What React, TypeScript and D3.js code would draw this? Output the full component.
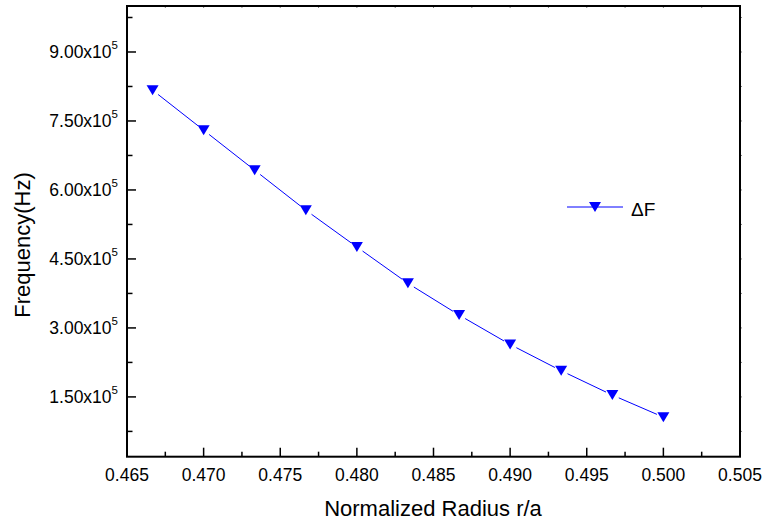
import React from "react";
import * as d3 from "d3";

const radius = [0.46667, 0.47, 0.47333, 0.47667, 0.48, 0.48333, 0.48667, 0.49, 0.49333, 0.49667, 0.5];
const deltaF = [8.17e5, 7.30e5, 6.43e5, 5.56e5, 4.76e5, 3.97e5, 3.28e5, 2.64e5, 2.07e5, 1.54e5, 1.06e5];
const xTicks = [0.465, 0.47, 0.475, 0.48, 0.485, 0.49, 0.495, 0.5, 0.505];
const yTicks = [1.5e5, 3.0e5, 4.5e5, 6.0e5, 7.5e5, 9.0e5];
const yTickLabels = ["1.50", "3.00", "4.50", "6.00", "7.50", "9.00"];
const seriesName = "ΔF";

const W = 766, H = 524;
const L = 127, R = 740, T = 6, B = 456.7;
const FONT = "'Liberation Sans', Arial, sans-serif";
const BLUE = "#0000ff";

export default function App() {
  const x = d3.scaleLinear().domain([0.465, 0.505]).range([L, R]);
  const y = d3.scaleLinear().domain([20000, 1000000]).range([B, T]);

  const xMinor = d3.range(0, 8).map((i) => 0.4675 + i * 0.005);
  const yMinor = d3.range(0, 7).map((i) => 0.75e5 + i * 1.5e5);

  const pts = radius.map((r, i) => [x(r), y(deltaF[i])] as [number, number]);
  const gap = 7;
  const segs = pts.slice(1).map((p, i) => {
    const a = pts[i];
    const dx = p[0] - a[0], dy = p[1] - a[1];
    const len = Math.hypot(dx, dy);
    const ux = dx / len, uy = dy / len;
    return [a[0] + ux * gap, a[1] + uy * gap, p[0] - ux * gap, p[1] - uy * gap];
  });
  const tri = (cx: number, cy: number) =>
    `M${cx - 6},${cy - 5}L${cx + 6},${cy - 5}L${cx},${cy + 5}Z`;

  return (
    <svg width={W} height={H} style={{ position: "absolute", left: 0, top: 0, background: "#fff" }} fontFamily={FONT}>
      <rect x={0} y={0} width={W} height={H} fill="#fff" />
      {/* minor ticks */}
      {xMinor.map((v) => (
        <g key={"xm" + v}>
          <line x1={x(v)} x2={x(v)} y1={B} y2={B - 5} stroke="#000" strokeWidth={1.5} />
          <line x1={x(v)} x2={x(v)} y1={T} y2={T + 1.5} stroke="#000" strokeWidth={1} />
        </g>
      ))}
      {xTicks.map((v) => (
        <g key={"xM" + v}>
          <line x1={x(v)} x2={x(v)} y1={B} y2={B - 9} stroke="#000" strokeWidth={1.5} />
          <line x1={x(v)} x2={x(v)} y1={T} y2={T + 1.5} stroke="#000" strokeWidth={1} />
          <text x={x(v)} y={481} fontSize={17.5} textAnchor="middle" fill="#000">
            {v.toFixed(3)}
          </text>
        </g>
      ))}
      {yMinor.map((v) => (
        <g key={"ym" + v}>
          <line x1={L} x2={L + 5.5} y1={y(v)} y2={y(v)} stroke="#000" strokeWidth={1.5} />
          <line x1={R} x2={R + 1.5} y1={y(v)} y2={y(v)} stroke="#000" strokeWidth={1} />
        </g>
      ))}
      {yTicks.map((v, i) => (
        <g key={"yM" + v}>
          <line x1={L} x2={L + 9} y1={y(v)} y2={y(v)} stroke="#000" strokeWidth={1.5} />
          <line x1={R} x2={R + 1.5} y1={y(v)} y2={y(v)} stroke="#000" strokeWidth={1} />
          <text x={118} y={y(v) + 6.5} textAnchor="end" fill="#000" fontSize={17.5}>
            <tspan>{yTickLabels[i] + "x10"}</tspan>
            <tspan fontSize={11.5} dy={-9}>5</tspan>
          </text>
        </g>
      ))}
      {/* frame */}
      <rect x={L} y={T} width={R - L} height={B - T} fill="none" stroke="#000" strokeWidth={2} />
      {/* series */}
      {segs.map((s, i) => (
        <line key={"s" + i} x1={s[0]} y1={s[1]} x2={s[2]} y2={s[3]} stroke={BLUE} strokeWidth={1} />
      ))}
      {pts.map((p, i) => (
        <path key={"p" + i} d={tri(p[0], p[1])} fill={BLUE} />
      ))}
      {/* legend */}
      <line x1={567} x2={623} y1={207} y2={207} stroke={BLUE} strokeWidth={1} />
      <path d={tri(595, 207)} fill={BLUE} />
      <text x={631} y={216} fontSize={19} fill="#000">{seriesName}</text>
      {/* axis titles */}
      <text x={433} y={516} fontSize={22} textAnchor="middle" fill="#000">Normalized Radius r/a</text>
      <text transform={`translate(30,245) rotate(-90)`} fontSize={22} textAnchor="middle" fill="#000">
        Frequency(Hz)
      </text>
    </svg>
  );
}
